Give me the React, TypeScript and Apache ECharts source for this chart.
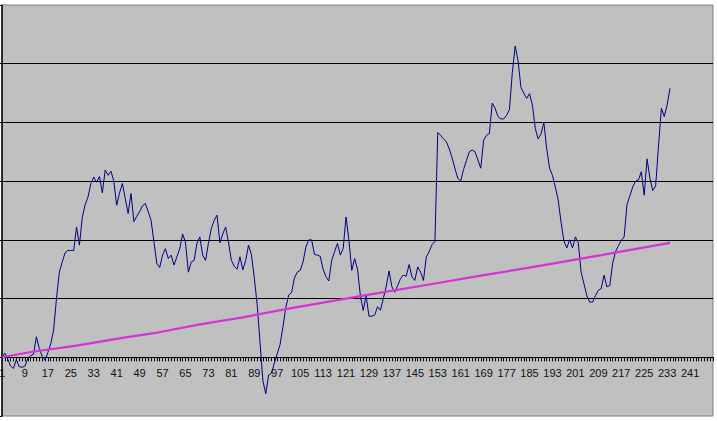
import React, { useEffect, useRef } from "react";
import * as echarts from "echarts";

// Category labels 1..249 (every category gets a tick, every 8th a label)
const categoryCount = 249;
const categories: string[] = Array.from({ length: categoryCount }, (_, i) => String(i + 1));

// Navy series, one value per category starting at 1
const navyValues: number[] = [
  0.0, 0.07, -0.03, -0.15, -0.19, -0.04, -0.16, -0.17, -0.15, -0.02,
  0.03, 0.05, 0.35, 0.15, 0.02, -0.05, 0.08, 0.23, 0.46, 1.0,
  1.45, 1.62, 1.78, 1.82, 1.82, 1.82, 2.22, 1.91, 2.38, 2.6,
  2.73, 2.96, 3.07, 2.98, 3.08, 2.8, 3.19, 3.1, 3.17, 3.0,
  2.59, 2.8, 2.96, 2.7, 2.45, 2.79, 2.31, 2.4, 2.48, 2.58,
  2.62, 2.48, 2.33, 1.96, 1.6, 1.53, 1.74, 1.85, 1.68, 1.74,
  1.57, 1.71, 1.85, 2.1, 1.96, 1.45, 1.62, 1.65, 1.94, 2.05,
  1.74, 1.65, 1.94, 2.19, 2.33, 2.42, 1.95, 2.1, 2.22, 1.96,
  1.65, 1.55, 1.5, 1.71, 1.49, 1.65, 1.91, 1.75, 1.35, 0.9,
  0.25, -0.4, -0.62, -0.3, -0.27, -0.1, 0.06, 0.22, 0.52, 0.85,
  1.06, 1.1, 1.35, 1.45, 1.48, 1.62, 1.88, 2.0, 2.0, 1.75,
  1.74, 1.72, 1.5, 1.37, 1.3, 1.65, 1.8, 1.94, 1.74, 1.85,
  2.39, 2.0, 1.48, 1.68, 1.5, 1.05, 0.8, 1.05, 0.7, 0.7,
  0.72, 0.86, 0.8, 1.0, 1.2, 1.47, 1.2, 1.11, 1.22, 1.34,
  1.4, 1.38, 1.58, 1.37, 1.31, 1.54, 1.45, 1.31, 1.71, 1.8,
  1.92, 1.97, 3.83, 3.78, 3.72, 3.67, 3.55, 3.4, 3.21, 3.05,
  3.0, 3.2, 3.35, 3.5, 3.53, 3.5, 3.36, 3.22, 3.7, 3.78,
  3.81, 4.33, 4.24, 4.1, 4.06, 4.06, 4.12, 4.22, 4.85, 5.3,
  5.05, 4.6, 4.5, 4.41, 4.49, 4.3, 3.9, 3.72, 3.8, 4.0,
  3.55, 3.22, 3.1, 2.9, 2.68, 2.3, 1.98, 1.86, 2.0, 1.86,
  2.05, 1.95, 1.45, 1.25, 1.05, 0.94, 0.94, 1.05, 1.14, 1.17,
  1.4, 1.2, 1.22, 1.6, 1.8, 1.9, 1.99, 2.05, 2.6, 2.75,
  2.9, 3.0, 3.02, 3.16, 2.76, 3.38, 3.05, 2.84, 2.92, 3.6,
  4.24, 4.1, 4.3, 4.58,
];

// Magenta series, read at these category numbers
const magentaCategories: number[] = [1, 11, 27, 43, 54, 70, 85, 100, 127, 150, 168, 190, 210, 234];
const magentaValues: number[] = [0.0, 0.09, 0.2, 0.33, 0.41, 0.56, 0.68, 0.82, 1.05, 1.24, 1.39, 1.57, 1.74, 1.95];

// Y axis gridline range
const yMin = -1;
const yMax = 6;
const yStep = 1;

export default function App() {
  const ref = useRef<HTMLDivElement>(null);

  useEffect(() => {
    if (!ref.current) return;
    const chart = echarts.init(ref.current, undefined, { renderer: "svg" });

    const magentaData = magentaCategories.map((c, i) => [c - 1, magentaValues[i]]);
    // distance (px) from the plot bottom up to the zero line
    const plotHeight = 421 - 5 - 5;
    const zeroOffset = (plotHeight * (0 - yMin)) / (yMax - yMin);

    chart.setOption({
      animation: false,
      backgroundColor: "#ffffff",
      grid: {
        left: 2,
        right: 4,
        top: 5,
        bottom: 5,
        show: true,
        backgroundColor: "#C0C0C0",
        borderColor: "#808080",
        borderWidth: 1,
        containLabel: false,
        outerBoundsMode: "none",
      },
      xAxis: [
        {
          type: "category",
          data: categories,
          boundaryGap: false,
          axisLine: { show: true, onZero: true, lineStyle: { color: "#000000", width: 1 } },
          axisTick: {
            show: true,
            interval: 0,
            length: 4,
            inside: false,
            lineStyle: { color: "#000000", width: 1 },
          },
          axisLabel: { show: false },
          splitLine: { show: false },
        },
        {
          type: "category",
          data: categories,
          position: "bottom",
          offset: -zeroOffset,
          boundaryGap: false,
          axisLine: { show: false, onZero: false },
          axisTick: { show: false },
          axisLabel: {
            show: true,
            interval: (i: number) => i % 8 === 0 && i <= 240,
            color: "#111111",
            fontSize: 11,
            fontFamily: "Liberation Sans, Arial, sans-serif",
            margin: 10,
          },
          splitLine: { show: false },
        },
      ],
      yAxis: {
        type: "value",
        min: yMin,
        max: yMax,
        interval: yStep,
        axisLine: { show: true, onZero: false, lineStyle: { color: "#000000", width: 1.5 } },
        axisTick: { show: true, length: 3, lineStyle: { color: "#000000" } },
        axisLabel: { show: false },
        splitLine: {
          show: true,
          showMinLine: false,
          showMaxLine: false,
          lineStyle: { color: "#000000", width: 1 },
        },
      },
      series: [
        {
          type: "line",
          xAxisIndex: 0,
          data: navyValues,
          symbol: "none",
          lineStyle: { color: "#000080", width: 1 },
          z: 2,
        },
        {
          type: "line",
          xAxisIndex: 0,
          data: magentaData,
          symbol: "none",
          lineStyle: { color: "#D633D6", width: 2.2 },
          z: 3,
        },
      ],
    });

    return () => {
      chart.dispose();
    };
  }, []);

  return (
    <div
      ref={ref}
      style={{ position: "fixed", left: 0, top: 0, width: 717, height: 421 }}
    />
  );
}
